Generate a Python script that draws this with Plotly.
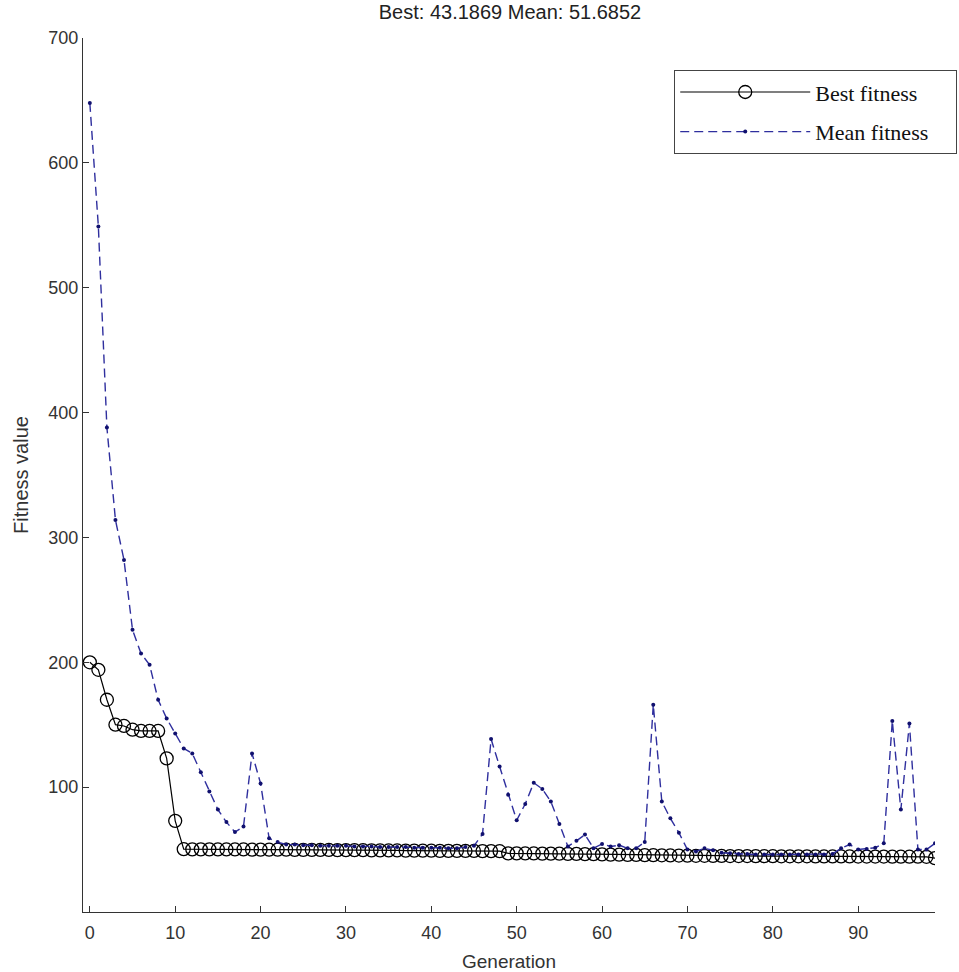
import plotly.graph_objects as go

generations = list(range(100))

best_fitness = [
    200, 194, 170, 150, 149, 146, 145, 145, 145, 123,
    73, 50.3, 50.2, 50.2, 50.2, 50.1, 50.1, 50.1, 50.1, 50.0,
    50.0, 49.9, 49.9, 49.9, 49.8, 49.8, 49.8, 49.7, 49.7, 49.6,
    49.6, 49.5, 49.5, 49.4, 49.4, 49.3, 49.3, 49.2, 49.2, 49.1,
    49.1, 49.0, 49.0, 49.0, 48.9, 48.9, 48.8, 48.8, 48.7, 47.0,
    47.0, 46.9, 46.9, 46.8, 46.8, 46.7, 46.6, 46.5, 46.4, 46.3,
    46.2, 46.0, 45.9, 45.8, 45.7, 45.6, 45.5, 45.4, 45.3, 45.2,
    45.1, 45.0, 45.0, 44.9, 44.9, 44.8, 44.8, 44.8, 44.7, 44.7,
    44.7, 44.6, 44.6, 44.6, 44.6, 44.5, 44.5, 44.5, 44.5, 44.5,
    44.4, 44.4, 44.4, 44.4, 44.3, 44.3, 44.3, 44.3, 44.2, 43.1869,
]

mean_fitness = [
    648, 549, 388, 314, 282, 226, 207, 198, 170, 155,
    143, 131, 127, 112, 96.5, 82, 72, 64, 68.5, 127,
    103, 59, 56, 54, 54, 53.5, 53.5, 53, 53, 53,
    53, 52.5, 52.5, 52.5, 52, 52, 52, 52, 51.5, 51.5,
    51.5, 51.5, 51, 51, 52, 53, 62.5, 138.5, 116.5, 94,
    73.5, 86.5, 103.5, 98.5, 88.5, 70.5, 52.5, 57, 62, 51,
    54.5, 52.5, 53.5, 51, 51, 56, 166, 88.5, 75, 63.5,
    50, 48.5, 51, 49.5, 47.5, 47, 46.5, 46.5, 46, 46,
    46, 46, 46, 46, 46, 46, 46, 46.5, 51, 54,
    50, 50.5, 51.5, 55, 153, 82, 151, 50, 50, 55,
]

x_ticks = [0, 10, 20, 30, 40, 50, 60, 70, 80, 90]
y_ticks = [100, 200, 300, 400, 500, 600, 700]
title_text = "Best: 43.1869 Mean: 51.6852"
pad = "&nbsp;" * 4

fig = go.Figure()
fig.add_trace(go.Scatter(
    x=generations, y=best_fitness, name="Best fitness" + pad, mode="lines+markers",
    line=dict(color="black", width=1.2),
    marker=dict(symbol="circle-open", size=13, color="black", line=dict(width=1.3)),
    legendgroup="a",
))
fig.add_trace(go.Scatter(
    x=generations, y=mean_fitness, name="Mean fitness" + pad, mode="lines+markers",
    line=dict(color="#2f2f9e", width=1.4, dash="9px,5px"),
    marker=dict(symbol="circle", size=4, color="#10106e"),
    legendgroup="b",
))

sans = "Liberation Sans, Arial, sans-serif"
axis_font = dict(family=sans, size=18, color="#333333")
fig.update_layout(
    width=959, height=972, autosize=False,
    margin=dict(l=83, r=24, t=38, b=60, autoexpand=False),
    paper_bgcolor="white", plot_bgcolor="white",
    title=dict(text=title_text, x=0.5318, xanchor="center", y=1 - 12 / 972, yanchor="middle",
               yref="container", font=dict(family=sans, size=20, color="#222222")),
    xaxis=dict(range=[-0.8, 99], tickvals=x_ticks, ticks="inside", ticklen=6, tickcolor="#333",
               showline=True, linecolor="#333333", linewidth=1.2, showgrid=False, zeroline=False,
               tickfont=axis_font, ticklabelstandoff=4, automargin=False,
               title=dict(text="Generation", font=dict(family=sans, size=19, color="#333333"), standoff=12)),
    yaxis=dict(range=[0, 700], tickvals=y_ticks, ticks="inside", ticklen=6, tickcolor="#333",
               showline=True, linecolor="#333333", linewidth=1.2, showgrid=False, zeroline=False,
               tickfont=axis_font, automargin=False,
               title=dict(text="Fitness value", font=dict(family=sans, size=20, color="#333333"), standoff=14)),
    legend=dict(x=0.6937, y=0.9634, xanchor="left", yanchor="top",
                bordercolor="#444444", borderwidth=1.2, bgcolor="white",
                font=dict(family="Liberation Serif, Times New Roman, serif", size=22, color="#111111"),
                itemwidth=130, tracegroupgap=8, traceorder="grouped"),
    showlegend=True,
)

fig.write_html("out.html",
               config={"responsive": False, "displayModeBar": False},
               post_script="document.body.style.margin='0px';")
